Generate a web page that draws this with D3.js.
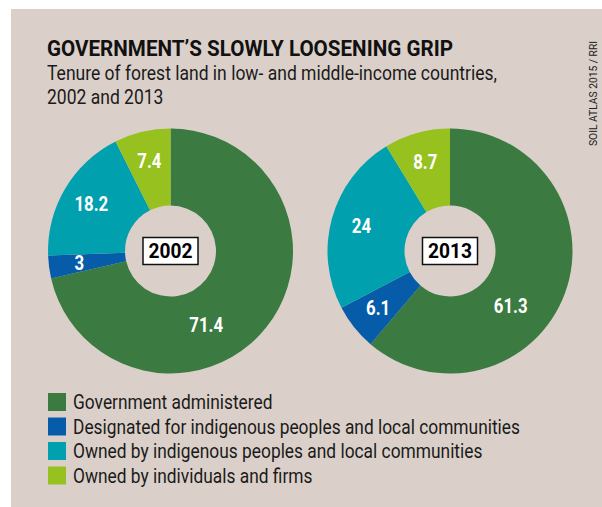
<!DOCTYPE html>
<html>
<head>
<meta charset="utf-8">
<script src="https://cdn.jsdelivr.net/npm/d3@7"></script>
<style>
  body { margin: 0; background: #fff; }
  svg text { font-family: "Roboto", "Liberation Sans", sans-serif; }
</style>
</head>
<body>
<svg id="chart" width="602" height="507"></svg>
<script>
/* Chart data
--------------------------------------------------- */
const categories = [
  'Government administered',
  'Designated for indigenous peoples and local communities',
  'Owned by indigenous peoples and local communities',
  'Owned by individuals and firms',
];
const years = ['2002', '2013'];
const values2002 = [71.4, 3, 18.2, 7.4];
const values2013 = [61.3, 6.1, 24, 8.7];
const colors = ['#3b7a41', '#065ca8', '#00a0ae', '#96c11f'];

/* Layout
--------------------------------------------------- */
const svg = d3.select('#chart');
const outerR = 122.5;
const innerR = 45.5;
const centers = d3.scalePoint().domain(years).range([170.5, 450]);
const cy = 251;

// the original uses a condensed face, so squeeze text horizontally
function squeeze(sel, factor) {
  sel.each(function () {
    const w = this.getComputedTextLength();
    d3.select(this).attr('textLength', w * factor).attr('lengthAdjust', 'spacingAndGlyphs');
  });
  return sel;
}

svg.append('rect')
  .attr('x', 11).attr('y', 9)
  .attr('width', 591).attr('height', 498)
  .attr('fill', '#dbd0c9');

/* Titles
--------------------------------------------------- */
const title = svg.append('text')
  .attr('x', 47).attr('y', 56)
  .attr('font-size', 22.5).attr('font-weight', 'bold').attr('fill', '#111')
  .text('GOVERNMENT\u2019S SLOWLY LOOSENING GRIP');
squeeze(title, 406 / title.node().getComputedTextLength());

const sub1 = svg.append('text')
  .attr('x', 47).attr('y', 80)
  .attr('font-size', 19.5).attr('fill', '#1a1a1a')
  .text('Tenure of forest land in low- and middle-income countries,');
const subFactor = 450 / sub1.node().getComputedTextLength();
squeeze(sub1, subFactor);

const sub2 = svg.append('text')
  .attr('x', 47).attr('y', 104)
  .attr('font-size', 19.5).attr('fill', '#1a1a1a')
  .text('2002 and 2013');
squeeze(sub2, subFactor);

const credit = svg.append('text')
  .attr('transform', 'translate(597,146) rotate(-90)')
  .attr('font-size', 11).attr('fill', '#222')
  .text('SOIL ATLAS 2015 / RRI');
squeeze(credit, 105 / credit.node().getComputedTextLength());

/* Donuts
--------------------------------------------------- */
const pie = d3.pie().sort(null).value(d => d);
const arc = d3.arc().innerRadius(innerR).outerRadius(outerR);

function drawDonut(year, values) {
  const g = svg.append('g').attr('transform', `translate(${centers(year)},${cy})`);
  const arcs = pie(values);
  const biggest = d3.max(values);

  g.selectAll('path')
    .data(arcs)
    .enter()
    .append('path')
    .attr('d', arc)
    .attr('fill', (d, i) => colors[i]);

  // labels: mid-angle for small slices, pushed a bit further round for the big one
  const labels = g.selectAll('.label')
    .data(arcs)
    .enter()
    .append('text')
    .attr('class', 'label')
    .attr('transform', d => {
      const big = d.data === biggest;
      const a = d.startAngle + (d.endAngle - d.startAngle) * (big ? 0.6 : 0.5);
      const r = big ? 82 : 92;
      return `translate(${r * Math.sin(a)},${-r * Math.cos(a)})`;
    })
    .attr('text-anchor', 'middle')
    .attr('dy', '0.35em')
    .attr('font-size', 20).attr('font-weight', 'bold').attr('fill', '#fff')
    .text(d => d.data);
  squeeze(labels, 0.84);

  g.append('rect')
    .attr('x', -27.5).attr('y', -13.5)
    .attr('width', 55).attr('height', 27)
    .attr('fill', '#fff').attr('stroke', '#111').attr('stroke-width', 1.5);

  const yr = g.append('text')
    .attr('text-anchor', 'middle')
    .attr('dy', '0.36em')
    .attr('font-size', 20).attr('font-weight', 'bold').attr('fill', '#000')
    .text(year);
  squeeze(yr, 44 / yr.node().getComputedTextLength());
}

drawDonut('2002', values2002);
drawDonut('2013', values2013);

/* Legend
--------------------------------------------------- */
const legendY = d3.scaleBand().domain(categories).range([393, 491]);

const legend = svg.selectAll('.legend')
  .data(categories)
  .enter()
  .append('g')
  .attr('class', 'legend')
  .attr('transform', d => `translate(48,${legendY(d)})`);

legend.append('rect')
  .attr('width', 18).attr('height', 18)
  .attr('fill', (d, i) => colors[i]);

const legendText = legend.append('text')
  .attr('x', 25).attr('y', 16)
  .attr('font-size', 20).attr('fill', '#1a1a1a')
  .text(d => d);
const legendFactor = 447 / legendText.filter((d, i) => i === 1).node().getComputedTextLength();
squeeze(legendText, legendFactor);
</script>
</body>
</html>
